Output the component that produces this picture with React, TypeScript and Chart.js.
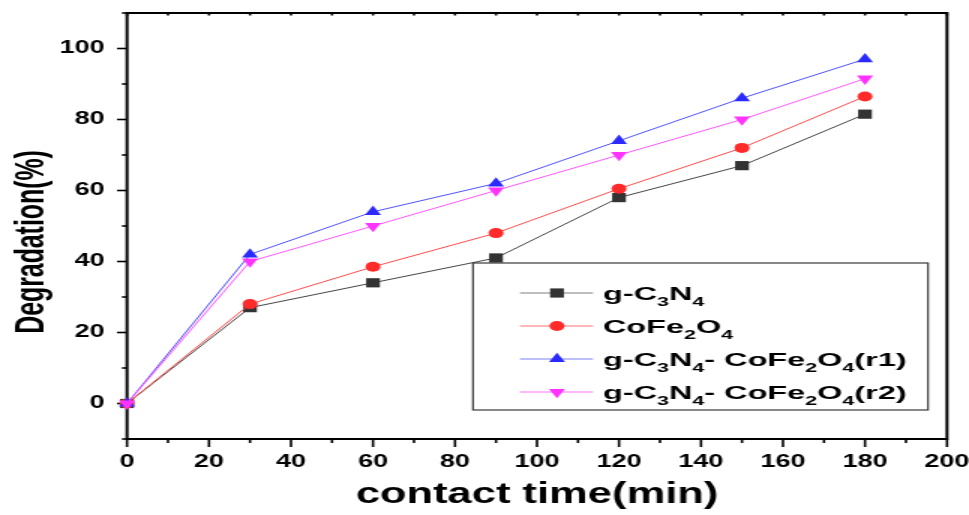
import { useEffect, useRef } from "react";
import { Chart, registerables } from "chart.js";

Chart.register(...registerables);

// ---- data ----
const contactTimes = [0, 30, 60, 90, 120, 150, 180];
const gC3N4 = [0, 27, 34, 41, 58, 67, 81.5];
const coFe2O4 = [0, 28, 38.5, 48, 60.5, 72, 86.5];
const compositeR1 = [0, 42, 54, 62, 74, 86, 97];
const compositeR2 = [0, 40, 50, 60, 70, 80, 91.5];
const seriesLabels = [
  "g-C_3N_4",
  "CoFe_2O_4",
  "g-C_3N_4- CoFe_2O_4(r1)",
  "g-C_3N_4- CoFe_2O_4(r2)",
];
const xTickLabels = [0, 20, 40, 60, 80, 100, 120, 140, 160, 180, 200];
const yTickLabels = [0, 20, 40, 60, 80, 100];
const xTitle = "contact time(min)";
const yTitle = "Degradation(%)";

// ---- styling ----
const SX = 1.5; // horizontal stretch of the whole picture
const W = 969 / SX;
const H = 515;
const FONT = "'Liberation Sans', Arial, sans-serif";

const seriesStyles = [
  { color: "#333333", line: "#444444", legendLine: "#a8a8a8", shape: "rect", r: 6.5 },
  { color: "#ff2a2a", line: "#ff4a4a", legendLine: "#ffa0a0", shape: "circle", r: 5 },
  { color: "#2a2aff", line: "#5050ff", legendLine: "#a8a8ff", shape: "triangle", r: 6.2 },
  { color: "#ff33ff", line: "#ff55ff", legendLine: "#ffa0ff", shape: "triangleDown", r: 6.2 },
];

function drawMarker(ctx: CanvasRenderingContext2D, shape: string, x: number, y: number, r: number, color: string) {
  ctx.save();
  ctx.fillStyle = color;
  ctx.beginPath();
  if (shape === "rect") {
    const s = Math.SQRT1_2 * r;
    ctx.rect(x - s, y - s, 2 * s, 2 * s);
  } else if (shape === "circle") {
    ctx.arc(x, y, r, 0, Math.PI * 2);
  } else {
    const dir = shape === "triangle" ? 1 : -1;
    ctx.moveTo(x, y - dir * r);
    ctx.lineTo(x + Math.sin((2 * Math.PI) / 3) * r, y + dir * r * 0.5);
    ctx.lineTo(x - Math.sin((2 * Math.PI) / 3) * r, y + dir * r * 0.5);
    ctx.closePath();
  }
  ctx.fill();
  ctx.restore();
}

function drawRichText(ctx: CanvasRenderingContext2D, text: string, x: number, y: number, size: number, subSize: number, subDy: number) {
  let cx = x;
  let i = 0;
  while (i < text.length) {
    if (text[i] === "_" && i + 1 < text.length) {
      ctx.font = `bold ${subSize}px ${FONT}`;
      ctx.fillText(text[i + 1], cx, y + subDy);
      cx += ctx.measureText(text[i + 1]).width;
      i += 2;
    } else {
      let j = i;
      while (j < text.length && text[j] !== "_") j++;
      const seg = text.slice(i, j);
      ctx.font = `bold ${size}px ${FONT}`;
      ctx.fillText(seg, cx, y);
      cx += ctx.measureText(seg).width;
      i = j;
    }
  }
}

const framePlugin = {
  id: "frame",
  beforeDatasetsDraw(chart: any) {
    const { ctx, chartArea: a, scales } = chart;
    const xs = scales.x;
    const ys = scales.y;
    ctx.save();
    ctx.strokeStyle = "#000";
    ctx.lineWidth = 2;
    ctx.strokeRect(a.left, a.top, a.right - a.left, a.bottom - a.top);
    ctx.lineWidth = 1.6;
    ys.ticks.forEach((t: any) => {
      const py = ys.getPixelForValue(t.value);
      const major = yTickLabels.includes(t.value);
      const len = major ? 6.7 : 3.4;
      ctx.beginPath();
      ctx.moveTo(a.left - len, py);
      ctx.lineTo(a.left, py);
      ctx.stroke();
    });
    xs.ticks.forEach((t: any) => {
      const px = xs.getPixelForValue(t.value);
      const major = xTickLabels.includes(t.value);
      const len = major ? 8 : 4;
      ctx.beginPath();
      ctx.moveTo(px, a.bottom);
      ctx.lineTo(px, a.bottom + len);
      ctx.stroke();
      ctx.beginPath();
      ctx.moveTo(px, a.top);
      ctx.lineTo(px, a.top + 2.5);
      ctx.stroke();
    });
    ctx.restore();
  },
  afterDraw(chart: any) {
    const { ctx, chartArea: a } = chart;
    ctx.save();
    ctx.fillStyle = "#000";
    ctx.font = `bold 29px ${FONT}`;
    ctx.textAlign = "center";
    ctx.textBaseline = "alphabetic";
    ctx.fillText(xTitle, (a.left + a.right) / 2, 503);
    ctx.save();
    ctx.translate(28.5, 242);
    ctx.rotate(-Math.PI / 2);
    ctx.scale(0.92, 1);
    ctx.font = `bold 27px ${FONT}`;
    ctx.fillText(yTitle, 0, 0);
    ctx.restore();

    // legend
    const bl = 473 / SX, br = 928 / SX, bt = 263, bb = 410;
    ctx.fillStyle = "#fff";
    ctx.fillRect(bl, bt, br - bl, bb - bt);
    ctx.strokeStyle = "#3a3a3a";
    ctx.lineWidth = 1.2;
    ctx.strokeRect(bl, bt, br - bl, bb - bt);
    const rows = [293, 326, 359, 392];
    const lx0 = 520 / SX, lx1 = 593 / SX, mx = 557 / SX, tx = 603 / SX;
    seriesLabels.forEach((label, i) => {
      const st = seriesStyles[i];
      const y = rows[i];
      ctx.strokeStyle = st.legendLine;
      ctx.lineWidth = 1.5;
      ctx.beginPath();
      ctx.moveTo(lx0, y);
      ctx.lineTo(lx1, y);
      ctx.stroke();
      drawMarker(ctx, st.shape, mx, y, st.r, st.color);
      ctx.save();
      ctx.translate(tx, y + 6.5);
      ctx.scale(1.2, 1);
      ctx.fillStyle = "#000";
      ctx.textAlign = "left";
      drawRichText(ctx, label, 0, 0, 18, 12, 6);
      ctx.restore();
    });
    ctx.restore();
  },
};

export default function App() {
  const ref = useRef<HTMLCanvasElement | null>(null);
  useEffect(() => {
    if (!ref.current) return;
    const allSeries = [gC3N4, coFe2O4, compositeR1, compositeR2];
    const chart = new Chart(ref.current, {
      type: "line",
      data: {
        datasets: allSeries.map((vals, i) => {
          const st = seriesStyles[i];
          return {
            label: seriesLabels[i],
            data: contactTimes.map((t, k) => ({ x: t, y: vals[k] })),
            borderColor: st.line,
            backgroundColor: st.color,
            borderWidth: 1,
            pointStyle: st.shape === "triangleDown" ? "triangle" : st.shape,
            pointRotation: st.shape === "triangleDown" ? 180 : 0,
            pointRadius: st.r,
            pointBorderWidth: 0,
            pointBorderColor: st.color,
            pointBackgroundColor: st.color,
            tension: 0,
            clip: false as any,
            order: 3 - i,
          };
        }),
      },
      options: {
        animation: false,
        responsive: false,
        devicePixelRatio: 1,
        maintainAspectRatio: false,
        layout: { padding: { left: 0, right: W - 947 / SX, top: 13, bottom: 0 } },
        plugins: { legend: { display: false }, tooltip: { enabled: false } },
        scales: {
          x: {
            type: "linear",
            min: 0,
            max: 200,
            grid: { display: false, drawTicks: false },
            border: { display: false },
            afterFit: (s: any) => {
              s.height = H - 439;
              s.paddingLeft = 0;
              s.paddingRight = 0;
            },
            ticks: {
              stepSize: 10,
              autoSkip: false,
              maxRotation: 0,
              padding: 12,
              color: "#000",
              font: { family: FONT, size: 18, weight: "bold" },
              callback: (v: any) => (xTickLabels.includes(Number(v)) ? String(v) : ""),
            },
          },
          y: {
            type: "linear",
            min: -10,
            max: 110,
            grid: { display: false, drawTicks: false },
            border: { display: false },
            afterFit: (s: any) => {
              s.width = 127 / SX;
              s.paddingTop = 0;
              s.paddingBottom = 0;
            },
            ticks: {
              stepSize: 10,
              autoSkip: false,
              padding: 15,
              color: "#000",
              font: { family: FONT, size: 18, weight: "bold" },
              callback: (v: any) => (yTickLabels.includes(Number(v)) ? String(v) : ""),
            },
          },
        },
      },
      plugins: [framePlugin],
    });
    return () => chart.destroy();
  }, []);

  return (
    <div
      style={{
        position: "fixed",
        left: 0,
        top: 0,
        width: 969,
        height: 515,
        overflow: "hidden",
        background: "#fff",
      }}
    >
      <canvas
        ref={ref}
        width={W}
        height={H}
        style={{
          width: W,
          height: H,
          transform: `scaleX(${SX})`,
          transformOrigin: "0 0",
          display: "block",
        }}
      />
    </div>
  );
}
